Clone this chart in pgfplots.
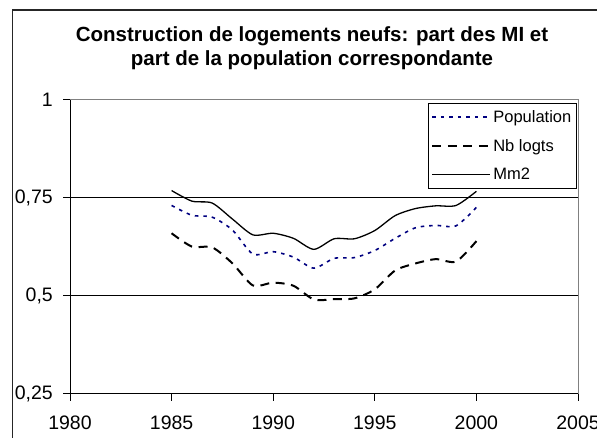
\documentclass[border=0pt]{standalone}
\usepackage{fontspec}
\setmainfont{Liberation Sans}
\usepackage{pgfplots}
\pgfplotsset{compat=1.18}
\definecolor{navy}{RGB}{0,0,128}
\begin{document}
\begin{tikzpicture}[x=1pt,y=1pt]
\useasboundingbox (0,0) rectangle (597,438);
\draw[line width=1.3pt, black!85] (12.7,-20) -- (12.7,428) -- (640,428);
\node[anchor=base, font=\fontsize{20.5}{24}\selectfont\bfseries] at (312,396) {Construction de logements neufs: part des MI et};
\node[anchor=base, font=\fontsize{20.5}{24}\selectfont\bfseries] at (312,372) {part de la population correspondante};
\begin{axis}[
  scale only axis, width=508pt, height=294pt,
  at={(70pt,44pt)}, anchor=south west,
  xmin=1980, xmax=2005, ymin=0.25, ymax=1,
  xtick={1980,1985,...,2005}, ytick={0.25,0.5,0.75,1},
  xtick pos=bottom, ytick pos=left,
  tick align=outside, major tick length=7pt,
  tick style={black, line width=1pt},
  axis line style={draw=gray, line width=1pt},
  /pgf/number format/assume math mode=true,
  ticklabel style={font=\fontsize{19.5}{23}\selectfont},
  xticklabel style={/pgf/number format/1000 sep={}, anchor=north, inner sep=0pt, yshift=-15pt},
  yticklabel style={/pgf/number format/use comma, anchor=east, inner sep=0pt, xshift=-10pt},
  legend cell align=left,
  legend style={at={(rel axis cs:1,1)}, anchor=north east, xshift=-1.3pt, yshift=-3pt,
    draw=black, line width=0.8pt, font=\fontsize{16.5}{19}\selectfont, row sep=11.5pt,
    inner xsep=3pt, inner ysep=5pt},
  legend image code/.code={\draw[#1] (0pt,0pt) -- (58pt,0pt);},
]
\draw[black, line width=1pt] (axis cs:1980,0.5) -- (axis cs:2005,0.5);
\draw[black, line width=1pt] (axis cs:1980,0.75) -- (axis cs:2005,0.75);
\addplot[navy, line width=1.6pt, dash pattern=on 3.5pt off 5pt, smooth, tension=0.45] coordinates {
(1985,0.731) (1986,0.706) (1987,0.701) (1988,0.668) (1989,0.607) (1990,0.613) (1991,0.599) (1992,0.571)
(1993,0.596) (1994,0.598) (1995,0.616) (1996,0.647) (1997,0.674) (1998,0.680) (1999,0.679) (2000,0.726)};
\addlegendentry{Population}
\addplot[black, line width=2pt, dash pattern=on 9pt off 6.5pt, smooth, tension=0.45] coordinates {
(1985,0.660) (1986,0.626) (1987,0.624) (1988,0.583) (1989,0.527) (1990,0.534) (1991,0.526) (1992,0.491)
(1993,0.492) (1994,0.494) (1995,0.517) (1996,0.565) (1997,0.583) (1998,0.594) (1999,0.588) (2000,0.640)};
\addlegendentry{Nb logts}
\addplot[black, line width=1.3pt, smooth, tension=0.45] coordinates {
(1985,0.769) (1986,0.742) (1987,0.737) (1988,0.696) (1989,0.656) (1990,0.660) (1991,0.647) (1992,0.619)
(1993,0.646) (1994,0.646) (1995,0.667) (1996,0.705) (1997,0.723) (1998,0.730) (1999,0.731) (2000,0.767)};
\addlegendentry{Mm2}
\draw[black, line width=1.2pt] (rel axis cs:0,1) -- (rel axis cs:0,0) -- (rel axis cs:1,0);
\end{axis}
\end{tikzpicture}
\end{document}
